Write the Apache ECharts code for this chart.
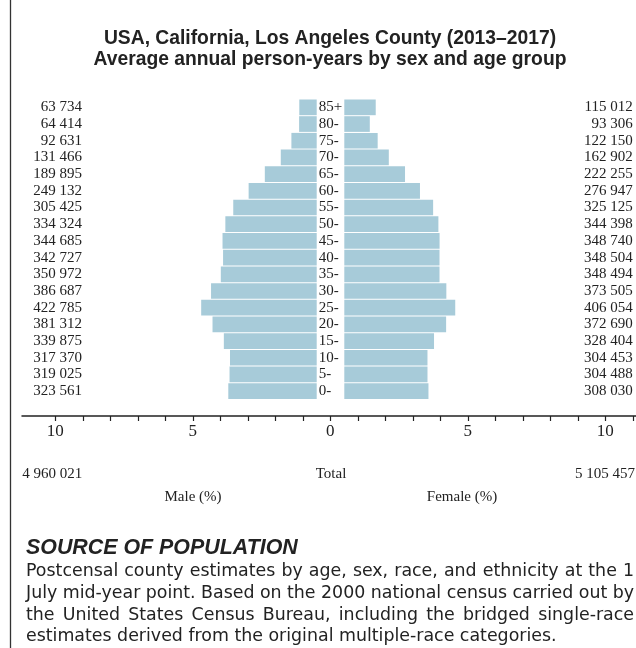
<!DOCTYPE html>
<html>
<head>
<meta charset="utf-8">
<script src="https://cdn.jsdelivr.net/npm/echarts@6/dist/echarts.min.js"></script>
<style>
html,body{margin:0;padding:0;background:#fff;}
#chart{width:636px;height:648px;}
</style>
</head>
<body>
<div id="chart"></div>
<script>
// ---- data ----
const ages = ['85+','80-','75-','70-','65-','60-','55-','50-','45-','40-','35-','30-','25-','20-','15-','10-','5-','0-'];
const male = [63734, 64414, 92631, 131466, 189895, 249132, 305425, 334324, 344685, 342727, 350972, 386687, 422785, 381312, 339875, 317370, 319025, 323561];
const female = [115012, 93306, 122150, 162902, 222255, 276947, 325125, 344398, 348740, 348504, 348494, 373505, 406054, 372690, 328404, 304453, 304488, 308030];
const totalMale = 4960021;
const totalFemale = 5105457;
const axisTickValues = [-10,-9,-8,-7,-6,-5,-4,-3,-2,-1,0,1,2,3,4,5,6,7,8,9,10,11];
const axisLabelValues = [-10,-5,0,5,10];
const titleLines = ['USA, California, Los Angeles County (2013\u20132017)', 'Average annual person-years by sex and age group'];
const sourceTitle = 'SOURCE OF POPULATION';
const sourceLines = [
  'Postcensal county estimates by age, sex, race, and ethnicity at the 1',
  'July mid-year point. Based on the 2000 national census carried out by',
  'the United States Census Bureau, including the bridged single-race',
  'estimates derived from the original multiple-race categories.'
];

// ---- helpers ----
function fmt(n){ return String(n).replace(/\B(?=(\d{3})+(?!\d))/g, ' '); }
const total = totalMale + totalFemale;
const pxPerPct = 27.5;
const serif = '"Liberation Serif", "Times New Roman", serif';
const sans = '"Liberation Sans", Arial, sans-serif';
const bodyFont = '17.4px "DejaVu Sans", sans-serif';
const barColor = '#a7cbd9';
const ink = '#222';

const gTop = 99, gH = 300.5;
const mLeft = 90, mW = 226.7;
const fLeft = 344.3, fW = 255.7;
const aLeft = 22, aW = 616.6;
const maleMax = mW / pxPerPct * total / 100;
const femaleMax = fW / pxPerPct * total / 100;
const aHalf = aW / 2 / pxPerPct;

// justified paragraph (all lines but the last spread to the full width)
const textLeft = 26, textRight = 634;
const mctx = document.createElement('canvas').getContext('2d');
mctx.font = bodyFont;
const lineYs = [571.7, 593.3, 615, 636.7];
const bodyGraphics = [];
sourceLines.forEach((line, li) => {
  const y = lineYs[li];
  if (li === sourceLines.length - 1) {
    bodyGraphics.push({type:'text', x:textLeft, y:y, style:{text:line, font:bodyFont, fill:ink, textAlign:'left', textVerticalAlign:'middle'}});
    return;
  }
  const words = line.split(' ');
  const widths = words.map(w => mctx.measureText(w).width);
  const sum = widths.reduce((a,b)=>a+b, 0);
  const gap = (textRight - textLeft - sum) / (words.length - 1);
  let x = textLeft;
  words.forEach((w, i) => {
    bodyGraphics.push({type:'text', x:x, y:y, style:{text:w, font:bodyFont, fill:ink, textAlign:'left', textVerticalAlign:'middle'}});
    x += widths[i] + gap;
  });
});

const chart = echarts.init(document.getElementById('chart'), null, {renderer:'canvas'});
const hiddenValueAxis = {
  type:'value', axisLine:{show:false}, axisTick:{show:false}, axisLabel:{show:false}, splitLine:{show:false}
};
const catBase = {
  type:'category', data: ages, inverse:true,
  axisLine:{show:false}, axisTick:{show:false}, splitLine:{show:false}
};

chart.setOption({
  animation:false,
  grid:[
    {left:mLeft, top:gTop, width:mW, height:gH, outerBoundsMode:'none', containLabel:false},
    {left:fLeft, top:gTop, width:fW, height:gH, outerBoundsMode:'none', containLabel:false},
    {left:aLeft, top:300, width:aW, height:116, outerBoundsMode:'none', containLabel:false}
  ],
  xAxis:[
    Object.assign({}, hiddenValueAxis, {gridIndex:0, inverse:true, min:0, max:maleMax}),
    Object.assign({}, hiddenValueAxis, {gridIndex:1, min:0, max:femaleMax}),
    {
      type:'value', gridIndex:2, min:-aHalf, max:aHalf, position:'bottom',
      axisLine:{show:true, onZero:false, lineStyle:{color:ink, width:1.5}},
      axisTick:{show:true, length:5, lineStyle:{color:ink, width:1.2}, customValues:axisTickValues},
      axisLabel:{show:true, margin:7, customValues:axisLabelValues, formatter:v=>String(Math.abs(Math.round(v))),
        fontFamily:serif, fontSize:17, color:ink},
      splitLine:{show:false}
    }
  ],
  yAxis:[
    Object.assign({}, catBase, {gridIndex:0, position:'left',
      axisLabel:{interval:0, margin:8, align:'right', fontFamily:serif, fontSize:15, color:ink, formatter:(v,i)=>fmt(male[i])}}),
    Object.assign({}, catBase, {gridIndex:0, position:'right',
      axisLabel:{interval:0, margin:2, align:'left', fontFamily:serif, fontSize:15, color:ink}}),
    Object.assign({}, catBase, {gridIndex:1, position:'right',
      axisLabel:{interval:0, margin:32.7, align:'right', fontFamily:serif, fontSize:15, color:ink, formatter:(v,i)=>fmt(female[i])}}),
    Object.assign({}, hiddenValueAxis, {gridIndex:2})
  ],
  series:[
    {type:'bar', name:'Male', xAxisIndex:0, yAxisIndex:0, data:male, barCategoryGap:'6%',
      itemStyle:{color:barColor}, silent:true},
    {type:'bar', name:'Female', xAxisIndex:1, yAxisIndex:2, data:female, barCategoryGap:'6%',
      itemStyle:{color:barColor}, silent:true}
  ],
  graphic:[
    {type:'line', shape:{x1:10.5, y1:0, x2:10.5, y2:648}, style:{stroke:'#333', lineWidth:1.3}, silent:true},
    {type:'text', x:330, y:38.5, style:{text:titleLines[0], font:'bold 19.3px '+sans, fill:ink, textAlign:'center', textVerticalAlign:'middle'}},
    {type:'text', x:330, y:59.5, style:{text:titleLines[1], font:'bold 19.3px '+sans, fill:ink, textAlign:'center', textVerticalAlign:'middle'}},
    {type:'text', x:22.3, y:474, style:{text:fmt(totalMale), font:'15px '+serif, fill:ink, textAlign:'left', textVerticalAlign:'middle'}},
    {type:'text', x:331, y:474, style:{text:'Total', font:'15px '+serif, fill:ink, textAlign:'center', textVerticalAlign:'middle'}},
    {type:'text', x:635, y:474, style:{text:fmt(totalFemale), font:'15px '+serif, fill:ink, textAlign:'right', textVerticalAlign:'middle'}},
    {type:'text', x:193, y:497, style:{text:'Male (%)', font:'15px '+serif, fill:ink, textAlign:'center', textVerticalAlign:'middle'}},
    {type:'text', x:462, y:497, style:{text:'Female (%)', font:'15px '+serif, fill:ink, textAlign:'center', textVerticalAlign:'middle'}},
    {type:'text', x:26, y:548, style:{text:sourceTitle, font:'italic bold 21.4px '+sans, fill:ink, textAlign:'left', textVerticalAlign:'middle'}}
  ].concat(bodyGraphics)
});
</script>
</body>
</html>
